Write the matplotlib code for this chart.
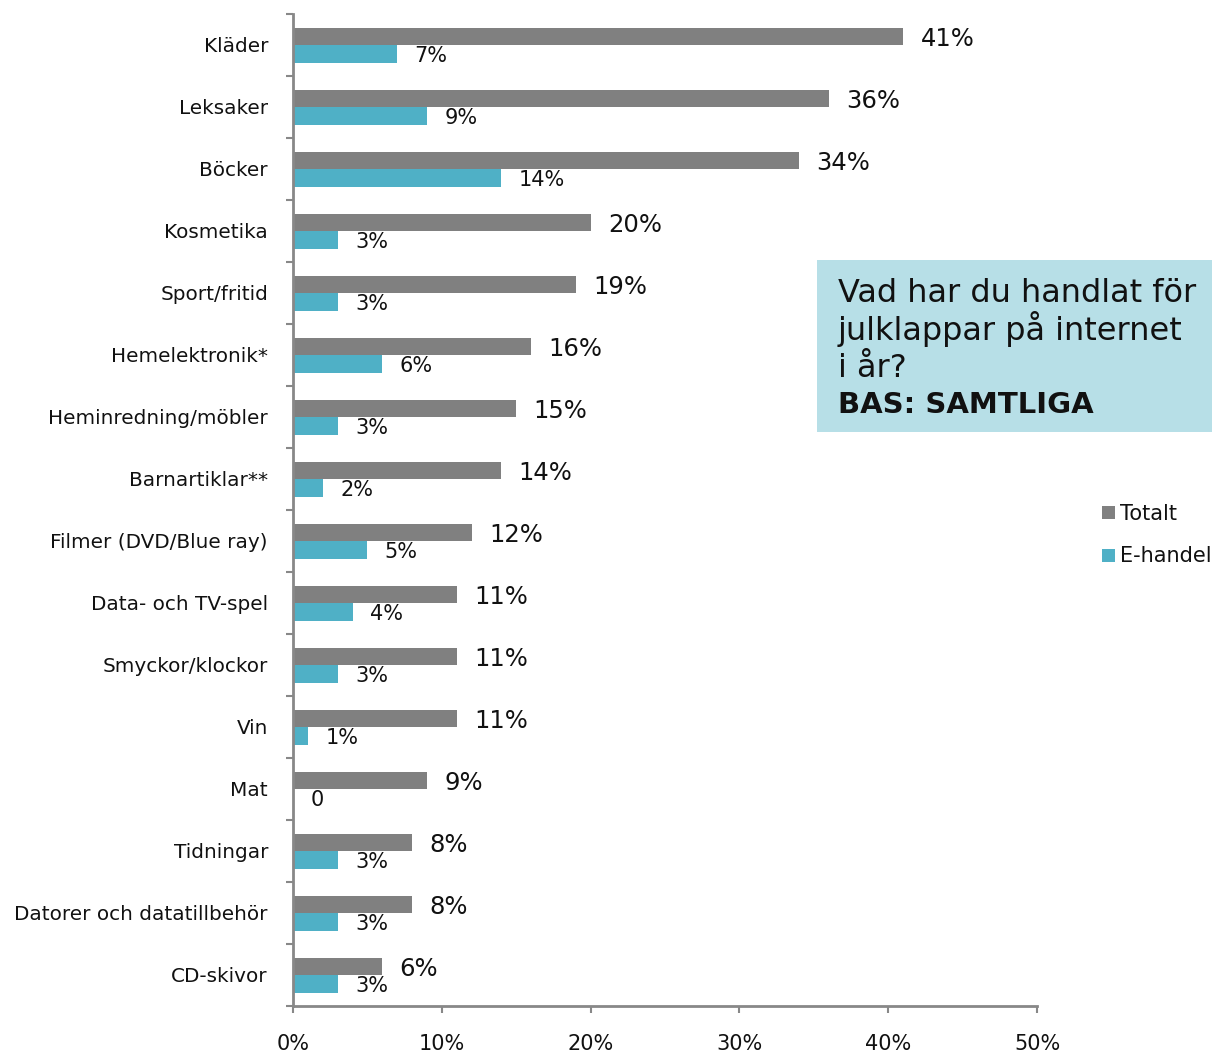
import matplotlib
matplotlib.use("Agg")
import matplotlib.pyplot as plt
import matplotlib.patches as patches
import numpy as np

categories = [
    "Kläder", "Leksaker", "Böcker", "Kosmetika", "Sport/fritid",
    "Hemelektronik*", "Heminredning/möbler", "Barnartiklar**",
    "Filmer (DVD/Blue ray)", "Data- och TV-spel", "Smyckor/klockor",
    "Vin", "Mat", "Tidningar", "Datorer och datatillbehör", "CD-skivor",
]
totalt = [41, 36, 34, 20, 19, 16, 15, 14, 12, 11, 11, 11, 9, 8, 8, 6]
ehandel = [7, 9, 14, 3, 3, 6, 3, 2, 5, 4, 3, 1, 0, 3, 3, 3]
x_ticks = [0, 10, 20, 30, 40, 50]

GRAY = "#808080"
TEAL = "#4FB0C6"
BOX = "#B7DFE7"
AXIS = "#888888"
TEXT = "#111111"

W, H = 1212, 1054
fig = plt.figure(figsize=(W / 100, H / 100), dpi=100)
ax = fig.add_axes([293 / W, 1 - 1006 / H, (1037 - 293) / W, (1006 - 14) / H])

y = np.arange(len(categories))
bar_h = 0.28
ax.barh(y - 0.137, totalt, height=bar_h, color=GRAY, label="Totalt")
ax.barh(y + 0.145, ehandel, height=bar_h, color=TEAL, label="E-handel")

# value labels
for i, v in enumerate(totalt):
    ax.annotate(f"{v}%", (v, i - 0.137), xytext=(12.5, -7), textcoords="offset points",
                ha="left", va="baseline", fontsize=17.5, color=TEXT)
for i, v in enumerate(ehandel):
    label = "0" if v == 0 else f"{v}%"
    ax.annotate(label, (v, i + 0.145), xytext=(12.5, -6), textcoords="offset points",
                ha="left", va="baseline", fontsize=15, color=TEXT)

ax.set_xlim(0, 50)
ax.set_ylim(len(categories) - 0.5, -0.5)

ax.set_xticks(x_ticks)
ax.set_xticklabels([f"{t}%" for t in x_ticks], fontsize=15, color=TEXT)
ax.tick_params(axis="x", direction="out", length=5, width=1.5, color=AXIS, pad=15)

# boundaries as major ticks, names on minor ticks
ax.set_yticks(np.arange(-0.5, len(categories), 1.0))
ax.set_yticklabels([])
ax.set_yticks(y, minor=True)
ax.set_yticklabels(categories, minor=True, fontsize=14.4, color=TEXT)
ax.tick_params(axis="y", which="major", direction="out", length=5, width=1.5, color=AXIS)
ax.tick_params(axis="y", which="minor", length=0, pad=18)

for side in ["top", "right"]:
    ax.spines[side].set_visible(False)
for side in ["left", "bottom"]:
    ax.spines[side].set_color(AXIS)
    ax.spines[side].set_linewidth(2)

# question box
box = patches.Rectangle((817 / W, 1 - 432 / H), (W - 817) / W, 172 / H,
                        transform=fig.transFigure, facecolor=BOX, edgecolor="none")
fig.patches.append(box)
lines = ["Vad har du handlat för", "julklappar på internet", "i år?"]
baselines = [302, 340, 377]
for txt, b in zip(lines, baselines):
    fig.text(838 / W, 1 - b / H, txt, fontsize=23, va="baseline", ha="left", color=TEXT)
fig.text(838 / W, 1 - 413 / H, "BAS: SAMTLIGA", fontsize=21, fontweight="bold",
         va="baseline", ha="left", color=TEXT)

ax.legend(loc="center left", bbox_to_anchor=(1102 / W, 1 - 535 / H),
          bbox_transform=fig.transFigure, frameon=False, fontsize=15,
          handlelength=0.6, handleheight=0.6, handletextpad=0.25,
          labelspacing=1.1, borderpad=0, borderaxespad=0, labelcolor=TEXT)

fig.savefig("out.png", dpi=100)
